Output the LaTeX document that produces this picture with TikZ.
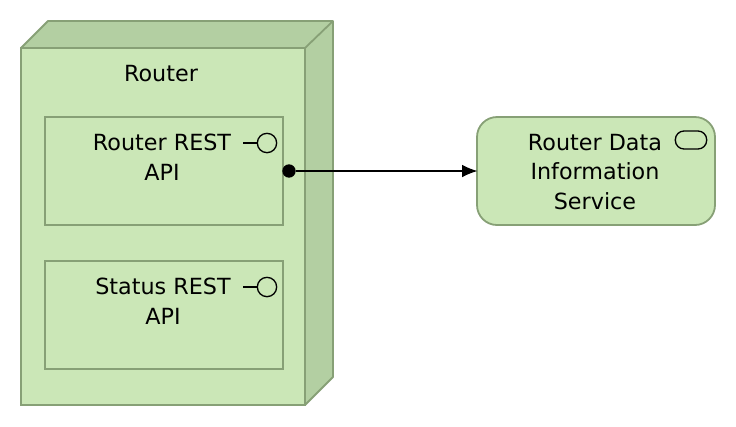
\documentclass[tikz,border=0pt]{standalone}
\usepackage{fontspec}
\setmainfont{DejaVu Sans}
\usetikzlibrary{arrows.meta}

\definecolor{boxgreen}{RGB}{203,231,183}
\definecolor{sidegreen}{RGB}{179,207,162}
\definecolor{linegreen}{RGB}{135,160,118}

\tikzset{
  boxline/.style={draw=linegreen, line width=1.35pt},
  apibox/.style={boxline, fill=boxgreen, minimum width=178.5pt, minimum height=81pt, inner sep=0pt},
  label/.style={font=\fontsize{16.7}{22.2}\selectfont, align=center, inner sep=0pt, text=black},
  iconline/.style={draw=black, line width=1pt},
}

\begin{document}
\begin{tikzpicture}[x=.75pt, y=-.75pt]
\useasboundingbox (0,0) rectangle (736,426);

% router block
\draw[boxline, fill=sidegreen, line join=round] (21,48) -- (48,21) -- (333,21) -- (333,377) -- (305,405) -- (305,48) -- cycle;
\draw[boxline] (305,48) -- (333,21);
\node[boxline, fill=boxgreen, minimum width=213pt, minimum height=267.75pt, inner sep=0pt] (router) at (163,226.5) {};
\node[label] (routertext) at (161,74) {Router};

% the two interfaces
\node[apibox] (restapi) at (164,171) {};
\node[apibox] (statusapi) at (164,315) {};
\node[label] (restapitext) at (162,157) {Router REST\\API};
\node[label] (statusapitext) at (163,301) {Status REST\\API};

\foreach \y/\name in {143/resticon,287/statusicon}{
\node[circle, iconline, minimum size=14.5pt, inner sep=0pt] (\name) at (267,\y) {};
\coordinate (\name stub) at (243,\y);
\draw[iconline] (\name stub) -- (\name);
}

% service
\node[boxline, fill=boxgreen, rounded corners=15pt, minimum width=178.5pt, minimum height=81pt, inner sep=0pt] (service) at (596,171) {};
\node[label] (servicetext) at (595,172) {Router Data\\Information\\Service};
\node[iconline, rounded corners=6.5pt, minimum width=23.5pt, minimum height=13.5pt, inner sep=0pt] (serviceicon) at (691,140) {};

% connector
\node[circle, fill=black, minimum size=10pt, inner sep=0pt] (dot) at (289,171) {};
\draw[-{Latex[length=11.5pt,width=9.5pt]}, line width=1pt, shorten >=-1pt] (dot) -- (service);

\end{tikzpicture}
\end{document}
